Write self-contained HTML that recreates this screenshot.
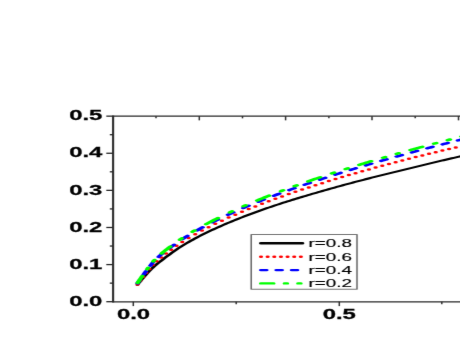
<!DOCTYPE html>
<html><head><meta charset="utf-8"><style>
html,body{margin:0;padding:0;background:#fff;}
svg{display:block;will-change:transform;opacity:0.999}
text{font-family:"Liberation Sans",sans-serif;fill:#000}
.b{font-weight:bold;font-size:13.8px;stroke:#000;stroke-width:0.25px}
.n{font-size:10.9px;stroke:#000;stroke-width:0.15px}
</style></head><body>
<svg width="460" height="345" viewBox="0 0 460 345">
<defs><filter id="bl" filterUnits="userSpaceOnUse" x="0" y="0" width="460" height="345" color-interpolation-filters="sRGB"><feConvolveMatrix order="5 5" kernelMatrix="0.00000 0.00000 0.00001 0.00000 0.00000 0.00001 0.00560 0.04135 0.00560 0.00001 0.00024 0.09526 0.70385 0.09526 0.00024 0.00001 0.00560 0.04135 0.00560 0.00001 0.00000 0.00000 0.00001 0.00000 0.00000" edgeMode="duplicate" preserveAlpha="true"/></filter></defs>
<rect width="460" height="345" fill="#fff"/>
<g filter="url(#bl)">
<rect width="460" height="345" fill="#fff"/>
<g transform="scale(1.73,1)">
<path d="M65.376 115.500 V302.550" stroke="#2a2a2a" stroke-width="1.22" fill="none"/>
<path d="M65.607 116.150 H271.676" stroke="#2a2a2a" stroke-width="1.3" fill="none"/>
<path d="M65.607 301.850 H271.676" stroke="#2a2a2a" stroke-width="1.4" fill="none"/>
<path d="M61.445 116.150 H65.607" stroke="#2a2a2a" stroke-width="1.3" fill="none"/>
<path d="M61.445 153.260 H65.607" stroke="#2a2a2a" stroke-width="1.3" fill="none"/>
<path d="M61.445 190.370 H65.607" stroke="#2a2a2a" stroke-width="1.3" fill="none"/>
<path d="M61.445 227.480 H65.607" stroke="#2a2a2a" stroke-width="1.3" fill="none"/>
<path d="M61.445 264.590 H65.607" stroke="#2a2a2a" stroke-width="1.3" fill="none"/>
<path d="M61.445 301.700 H65.607" stroke="#2a2a2a" stroke-width="1.3" fill="none"/>
<path d="M63.468 134.700 H65.607" stroke="#2a2a2a" stroke-width="1.3" fill="none"/>
<path d="M63.468 171.810 H65.607" stroke="#2a2a2a" stroke-width="1.3" fill="none"/>
<path d="M63.468 208.920 H65.607" stroke="#2a2a2a" stroke-width="1.3" fill="none"/>
<path d="M63.468 246.030 H65.607" stroke="#2a2a2a" stroke-width="1.3" fill="none"/>
<path d="M63.468 283.140 H65.607" stroke="#2a2a2a" stroke-width="1.3" fill="none"/>
<path d="M77.052 301.700 V306.100" stroke="#2a2a2a" stroke-width="0.85" fill="none"/>
<path d="M136.532 301.700 V304.300" stroke="#2a2a2a" stroke-width="0.85" fill="none"/>
<path d="M196.127 301.700 V306.100" stroke="#2a2a2a" stroke-width="0.85" fill="none"/>
<path d="M255.376 301.700 V304.300" stroke="#2a2a2a" stroke-width="0.85" fill="none"/>
<path d="M90.173 116.150 V118.350" stroke="#2a2a2a" stroke-width="0.85" fill="none"/>
<path d="M115.202 116.150 V120.350" stroke="#2a2a2a" stroke-width="0.85" fill="none"/>
<path d="M140.173 116.150 V118.350" stroke="#2a2a2a" stroke-width="0.85" fill="none"/>
<path d="M165.087 116.150 V120.350" stroke="#2a2a2a" stroke-width="0.85" fill="none"/>
<path d="M190.116 116.150 V118.350" stroke="#2a2a2a" stroke-width="0.85" fill="none"/>
<path d="M215.029 116.150 V120.350" stroke="#2a2a2a" stroke-width="0.85" fill="none"/>
<path d="M240.000 116.150 V118.350" stroke="#2a2a2a" stroke-width="0.85" fill="none"/>
<path d="M265.029 116.150 V120.350" stroke="#2a2a2a" stroke-width="0.85" fill="none"/>

<path d="M79.428 284.818 L79.781 284.095 L80.235 283.151 L80.773 282.029 L81.376 280.774 L82.026 279.427 L82.706 278.033 L83.398 276.634 L84.084 275.273 L84.746 273.993 L85.367 272.838 L85.934 271.807 L86.460 270.854 L86.962 269.957 L87.458 269.092 L87.965 268.234 L88.503 267.362 L89.088 266.450 L89.738 265.477 L90.472 264.417 L91.306 263.248 L92.254 261.951 L93.302 260.538 L94.433 259.036 L95.630 257.471 L96.874 255.869 L98.148 254.256 L99.434 252.657 L100.714 251.099 L101.970 249.608 L103.185 248.210 L104.373 246.888 L105.561 245.606 L106.749 244.361 L107.936 243.149 L109.124 241.967 L110.312 240.811 L111.500 239.678 L112.688 238.565 L113.876 237.467 L115.064 236.382 L116.251 235.316 L117.439 234.277 L118.627 233.262 L119.815 232.268 L121.003 231.292 L122.191 230.334 L123.379 229.388 L124.566 228.455 L125.754 227.529 L126.942 226.610 L128.130 225.700 L129.318 224.805 L130.506 223.923 L131.694 223.053 L132.882 222.194 L134.069 221.346 L135.257 220.508 L136.445 219.678 L137.633 218.856 L138.821 218.041 L140.009 217.235 L141.197 216.439 L142.384 215.653 L143.572 214.877 L144.760 214.109 L145.948 213.349 L147.136 212.596 L148.324 211.850 L149.512 211.110 L150.699 210.376 L151.887 209.649 L153.075 208.929 L154.263 208.217 L155.451 207.512 L156.639 206.814 L157.827 206.122 L159.014 205.436 L160.202 204.755 L161.390 204.079 L162.578 203.408 L163.766 202.743 L164.954 202.083 L166.142 201.430 L167.329 200.782 L168.517 200.140 L169.705 199.503 L170.893 198.870 L172.081 198.242 L173.269 197.617 L174.457 196.996 L175.645 196.379 L176.832 195.769 L178.020 195.164 L179.208 194.563 L180.396 193.966 L181.584 193.373 L182.772 192.782 L183.960 192.193 L185.147 191.605 L186.335 191.018 L187.523 190.431 L188.711 189.846 L189.899 189.263 L191.087 188.682 L192.275 188.103 L193.462 187.527 L194.650 186.953 L195.838 186.383 L197.026 185.817 L198.214 185.254 L199.402 184.695 L200.590 184.140 L201.777 183.587 L202.965 183.038 L204.153 182.492 L205.341 181.949 L206.529 181.409 L207.717 180.871 L208.905 180.336 L210.092 179.803 L211.280 179.274 L212.468 178.748 L213.656 178.224 L214.844 177.704 L216.032 177.186 L217.220 176.671 L218.408 176.157 L219.595 175.645 L220.783 175.134 L221.971 174.624 L223.159 174.117 L224.347 173.612 L225.535 173.110 L226.723 172.610 L227.910 172.111 L229.098 171.613 L230.286 171.115 L231.474 170.616 L232.662 170.116 L233.850 169.615 L235.038 169.112 L236.225 168.606 L237.413 168.100 L238.601 167.593 L239.789 167.086 L240.977 166.580 L242.165 166.076 L243.353 165.573 L244.540 165.074 L245.728 164.577 L246.916 164.084 L248.104 163.593 L249.292 163.104 L250.480 162.617 L251.668 162.131 L252.855 161.648 L254.043 161.166 L255.231 160.685 L256.419 160.206 L257.607 159.729 L258.795 159.252 L259.983 158.776 L261.171 158.302 L262.358 157.828 L263.546 157.357 L264.734 156.888 L265.922 156.421 L267.110 155.956 L268.298 155.494 L269.486 155.035 L270.727 154.559 L272.051 154.057 L273.423 153.540 L274.807 153.021 L276.167 152.513 L277.468 152.028 L278.674 151.580 L279.749 151.180 L280.657 150.842 L281.364 150.578" fill="none" stroke="#000" stroke-width="2.0" stroke-linecap="round" stroke-linejoin="round"/>
<path d="M79.532 284.428 l0.01 0 M81.178 280.567 l0.01 0 M82.838 276.706 l0.01 0 M84.556 272.845 l0.01 0 M86.380 268.984 l0.01 0 M88.267 265.123 l0.01 0 M90.508 261.262 l0.01 0 M93.126 257.401 l0.01 0 M95.944 253.540 l0.01 0 M98.905 249.679 l0.01 0 M102.016 245.818 l0.01 0 M105.357 241.957 l0.01 0 M109.005 238.096 l0.01 0 M112.856 234.288 l0.01 0 M116.717 230.620 l0.01 0 M120.578 227.153 l0.01 0 M124.439 223.856 l0.01 0 M128.300 220.672 l0.01 0 M132.161 217.620 l0.01 0 M136.022 214.687 l0.01 0 M139.883 211.839 l0.01 0 M143.744 209.087 l0.01 0 M147.605 206.423 l0.01 0 M151.466 203.827 l0.01 0 M155.327 201.304 l0.01 0 M159.188 198.850 l0.01 0 M163.049 196.452 l0.01 0 M166.910 194.111 l0.01 0 M170.771 191.826 l0.01 0 M174.632 189.588 l0.01 0 M178.493 187.397 l0.01 0 M182.354 185.253 l0.01 0 M186.215 183.148 l0.01 0 M190.076 181.083 l0.01 0 M193.937 179.057 l0.01 0 M197.798 177.066 l0.01 0 M201.659 175.108 l0.01 0 M205.520 173.184 l0.01 0 M209.381 171.291 l0.01 0 M213.242 169.426 l0.01 0 M217.103 167.591 l0.01 0 M220.964 165.782 l0.01 0 M224.825 163.999 l0.01 0 M228.686 162.243 l0.01 0 M232.547 160.510 l0.01 0 M236.408 158.800 l0.01 0 M240.269 157.113 l0.01 0 M244.130 155.447 l0.01 0 M247.991 153.802 l0.01 0 M251.852 152.177 l0.01 0 M255.713 150.573 l0.01 0 M259.574 148.986 l0.01 0 M263.435 147.418 l0.01 0 M267.296 145.868 l0.01 0 M271.157 144.336 l0.01 0 M275.018 142.825 l0.01 0 M278.879 141.325 l0.01 0" fill="none" stroke="#f00" stroke-width="2.5" stroke-linecap="round" stroke-linejoin="round"/>
<path d="M79.428 283.410 L79.479 283.286 L79.715 282.708 L79.997 282.010 L80.320 281.207 L80.678 280.314 L80.720 280.210 M83.016 274.550 L83.052 274.463 L83.513 273.351 L83.971 272.262 L84.360 271.350 M86.866 265.690 L86.879 265.661 L87.209 264.919 L87.541 264.187 L87.879 263.459 L88.229 262.730 L88.348 262.490 M91.632 256.830 L91.766 256.627 L92.422 255.657 L93.121 254.648 L93.842 253.630 M98.075 247.970 L98.148 247.876 L99.005 246.781 L99.862 245.701 L100.611 244.770 M105.410 239.110 L105.561 238.943 L106.353 238.074 L107.145 237.222 L107.936 236.384 L108.391 235.910 M114.007 230.308 L114.074 230.243 L114.866 229.477 L115.658 228.716 L116.449 227.965 L117.207 227.256 M122.867 222.192 L122.983 222.092 L123.775 221.410 L124.566 220.734 L125.358 220.061 L126.067 219.463 M131.727 214.826 L131.892 214.696 L132.684 214.070 L133.475 213.449 L134.267 212.833 L134.927 212.323 M140.587 208.041 L140.603 208.029 L141.395 207.445 L142.186 206.866 L142.978 206.290 L143.770 205.718 L143.787 205.706 M149.447 201.714 L149.512 201.669 L150.303 201.121 L151.095 200.576 L151.887 200.034 L152.647 199.518 M158.307 195.754 L158.421 195.679 L159.212 195.164 L160.004 194.651 L160.796 194.139 L161.507 193.682 M167.167 190.108 L167.329 190.007 L168.121 189.517 L168.913 189.029 L169.705 188.544 L170.367 188.140 M176.027 184.734 L176.040 184.725 L176.832 184.257 L177.624 183.790 L178.416 183.325 L179.208 182.863 L179.227 182.852 M184.887 179.595 L184.949 179.559 L185.741 179.110 L186.533 178.662 L187.325 178.216 L188.087 177.788 M193.747 174.659 L193.858 174.598 L194.650 174.167 L195.442 173.737 L196.234 173.308 L196.947 172.923 M202.607 169.906 L202.767 169.821 L203.559 169.405 L204.351 168.991 L205.143 168.577 L205.807 168.232 M211.467 165.317 L211.478 165.311 L212.270 164.909 L213.062 164.507 L213.854 164.107 L214.646 163.708 L214.667 163.697 M220.327 160.877 L220.387 160.847 L221.179 160.457 L221.971 160.068 L222.763 159.680 L223.527 159.306 M229.187 156.570 L229.296 156.518 L230.088 156.139 L230.880 155.762 L231.672 155.385 L232.387 155.046 M238.047 152.386 L238.205 152.312 L238.997 151.944 L239.789 151.577 L240.581 151.211 L241.247 150.904 M246.907 148.315 L246.916 148.311 L247.708 147.952 L248.500 147.594 L249.292 147.237 L250.084 146.881 L250.107 146.871 M255.767 144.349 L255.825 144.323 L256.617 143.973 L257.409 143.624 L258.201 143.275 L258.967 142.939 M264.627 140.478 L264.734 140.431 L265.526 140.090 L266.318 139.749 L267.110 139.409 L267.827 139.102 M273.487 136.702 L273.654 136.632 L274.577 136.244 L275.492 135.861 L276.389 135.485 L276.687 135.361" fill="none" stroke="#00f" stroke-width="2.5" stroke-linecap="round" stroke-linejoin="round"/>
<path d="M79.489 282.962 L79.533 282.852 L79.781 282.232 L80.074 281.493 L80.406 280.651 L80.773 279.721 L81.169 278.719 L81.588 277.659 L82.026 276.558 L82.264 275.962 M85.035 269.262 L85.063 269.197 L85.465 268.290 L85.655 267.862 M88.572 261.362 L88.597 261.313 L88.986 260.549 L89.298 259.962 M93.385 253.452 L93.485 253.307 L94.240 252.234 L95.025 251.138 L95.835 250.026 L96.665 248.904 L97.509 247.779 L98.362 246.657 L98.519 246.452 M103.900 239.752 L103.977 239.662 L104.769 238.741 L105.108 238.352 M111.192 231.852 L111.302 231.741 L112.094 230.944 L112.586 230.453 M119.096 224.169 L119.221 224.053 L120.013 223.328 L120.805 222.611 L121.597 221.901 L122.389 221.197 L123.181 220.499 L123.973 219.807 L124.764 219.118 L125.556 218.434 L126.096 217.971 M132.796 212.412 L132.882 212.343 L133.673 211.711 L134.196 211.298 M140.696 206.276 L140.801 206.197 L141.592 205.603 L142.096 205.229 M148.606 200.507 L148.720 200.426 L149.512 199.866 L150.303 199.308 L151.095 198.752 L151.887 198.200 L152.679 197.651 L153.471 197.106 L154.263 196.563 L155.055 196.024 L155.606 195.651 M162.306 191.207 L162.380 191.158 L163.172 190.643 L163.706 190.298 M170.206 186.180 L170.299 186.122 L171.091 185.631 L171.606 185.313 M178.116 181.354 L178.218 181.292 L179.010 180.820 L179.802 180.350 L180.594 179.882 L181.386 179.415 L182.178 178.950 L182.970 178.487 L183.762 178.026 L184.553 177.565 L185.116 177.240 M191.816 173.421 L191.879 173.386 L192.671 172.943 L193.216 172.638 M199.716 169.059 L199.798 169.015 L200.590 168.585 L201.116 168.301 M207.626 164.831 L207.717 164.783 L208.509 164.367 L209.301 163.951 L210.092 163.537 L210.884 163.124 L211.676 162.713 L212.468 162.303 L213.260 161.894 L214.052 161.486 L214.626 161.192 M221.326 157.795 L221.377 157.769 L222.169 157.372 L222.726 157.094 M229.226 153.888 L229.296 153.853 L230.088 153.468 L230.626 153.206 M237.136 150.075 L237.215 150.037 L238.007 149.661 L238.799 149.285 L239.591 148.911 L240.383 148.537 L241.175 148.165 L241.967 147.793 L242.759 147.422 L243.551 147.052 L244.136 146.779 M250.836 143.687 L250.876 143.669 L251.668 143.307 L252.236 143.049 M258.736 140.117 L258.795 140.090 L259.587 139.736 L260.136 139.492 M266.646 136.618 L266.714 136.588 L267.506 136.242 L268.298 135.897 L269.090 135.552 L269.888 135.205 L270.727 134.842 L271.603 134.464 L272.505 134.076 L273.423 133.683 L273.646 133.587 M280.346 130.730 L280.375 130.717 L280.917 130.486 L281.364 130.295" fill="none" stroke="#0f0" stroke-width="2.5" stroke-linecap="round" stroke-linejoin="round"/>

<rect x="145.202" y="234.6" width="61.156" height="54.6" fill="#fff" stroke="#555" stroke-width="0.8"/>
<path d="M150.867 243.2 H174.740" stroke="#000" stroke-width="2.4" stroke-linecap="round" fill="none"/>
<path d="M150.867 256.7 H174.740" stroke="#f00" stroke-width="2.4" stroke-linecap="round" fill="none" stroke-dasharray="0 3.84"/>
<path d="M150.867 270.1 H174.740" stroke="#00f" stroke-width="2.4" stroke-linecap="round" fill="none" stroke-dasharray="3.2 5.7"/>
<path d="M150.867 283.4 H174.740" stroke="#0f0" stroke-width="2.4" stroke-linecap="round" fill="none" stroke-dasharray="7.2 6.5 1.4 6.4 1.4 6.35"/>

</g>
<text class="b" transform="translate(102.300,120.300) scale(1.73,1)" text-anchor="end">0.5</text>
<text class="b" transform="translate(102.300,157.410) scale(1.73,1)" text-anchor="end">0.4</text>
<text class="b" transform="translate(102.300,194.520) scale(1.73,1)" text-anchor="end">0.3</text>
<text class="b" transform="translate(102.300,231.630) scale(1.73,1)" text-anchor="end">0.2</text>
<text class="b" transform="translate(102.300,268.740) scale(1.73,1)" text-anchor="end">0.1</text>
<text class="b" transform="translate(102.300,305.850) scale(1.73,1)" text-anchor="end">0.0</text>
<text class="b" transform="translate(133.500,318.800) scale(1.73,1)" text-anchor="middle">0.0</text>
<text class="b" transform="translate(339.300,318.800) scale(1.73,1)" text-anchor="middle">0.5</text>
<text class="n" transform="translate(308.400,247.150) scale(1.73,1)">r=0.8</text>
<text class="n" transform="translate(308.400,260.650) scale(1.73,1)">r=0.6</text>
<text class="n" transform="translate(308.400,274.050) scale(1.73,1)">r=0.4</text>
<text class="n" transform="translate(308.400,287.350) scale(1.73,1)">r=0.2</text>

</g>
</svg>
</body></html>
